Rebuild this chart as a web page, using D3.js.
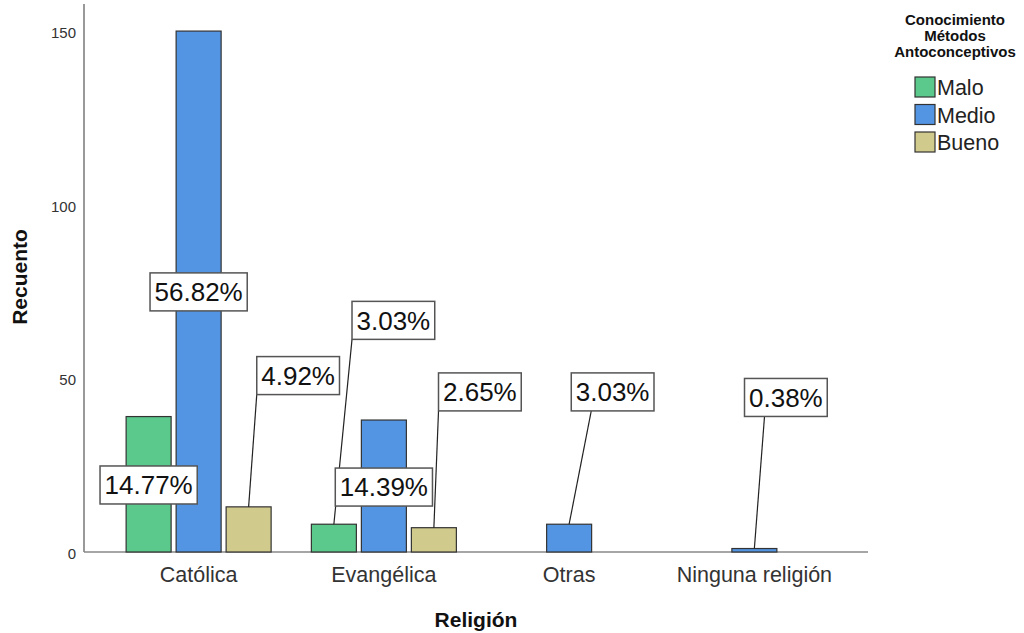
<!DOCTYPE html>
<html>
<head>
<meta charset="utf-8">
<script src="https://cdn.jsdelivr.net/npm/d3@7"></script>
<style>
  html, body { margin: 0; padding: 0; background: #fff; }
  svg { display: block; font-family: "Liberation Sans", Arial, sans-serif; }
</style>
</head>
<body>
<svg id="chart" width="1024" height="633"></svg>
<script>
// ---- Data ----
const categories = ["Católica", "Evangélica", "Otras", "Ninguna religión"];
const seriesNames = ["Malo", "Medio", "Bueno"];
const maloValues  = [39, 8, 0, 0];
const medioValues = [150, 38, 8, 1];
const buenoValues = [13, 7, 0, 0];
const totalCount = 264;
const yTicks = [0, 50, 100, 150];
const legendTitle = ["Conocimiento", "Métodos", "Antoconceptivos"];
const xTitle = "Religión";
const yTitle = "Recuento";

// ---- Styles / layout ----
const colors = ["#5ac98b", "#5394e3", "#d1ca8d"];
// label placement: category index, series index, x offset (px) from bar centre,
// label centre height (in data units), leader start offset from box left (null = no leader)
const labelLayout = [
  { c: 0, s: 0, dx: 0,    yv: 19.3, lx: null },
  { c: 0, s: 1, dx: 0,    yv: 74.9, lx: null },
  { c: 0, s: 2, dx: 49.5, yv: 50.8, lx: 0 },
  { c: 1, s: 0, dx: 59.5, yv: 66.7, lx: 0 },
  { c: 1, s: 1, dx: 0,    yv: 18.7, lx: null },
  { c: 1, s: 2, dx: 46,   yv: 46.1, lx: 0 },
  { c: 2, s: 1, dx: 43.5, yv: 46.1, lx: 20 },
  { c: 3, s: 1, dx: 31.5, yv: 44.5, lx: 20 }
];

const svg = d3.select("#chart");
const seriesValues = [maloValues, medioValues, buenoValues];

const x = d3.scaleBand().domain(categories).range([106, 847]).padding(0);
const y = d3.scaleLinear().domain([0, 157.8]).range([552, 4]);

const barW = 45, barStep = 50;

// build bar records
const bars = [];
categories.forEach((cat, ci) => {
  const present = seriesNames.map((s, si) => si).filter(si => seriesValues[si][ci] > 0);
  const n = present.length;
  present.forEach((si, k) => {
    const cx = x(cat) + x.bandwidth() / 2 + (k - (n - 1) / 2) * barStep;
    bars.push({ ci, si, cx, v: seriesValues[si][ci] });
  });
});

// axes lines
svg.append("line").attr("x1", 84).attr("x2", 84).attr("y1", y.range()[1]).attr("y2", y(0))
  .attr("stroke", "#999").attr("stroke-width", 2);
svg.append("line").attr("x1", 84).attr("x2", 868).attr("y1", y(0)).attr("y2", y(0))
  .attr("stroke", "#888").attr("stroke-width", 1.5);

// y ticks
const yAxis = svg.append("g").attr("transform", "translate(84,0)")
  .call(d3.axisLeft(y).tickValues(yTicks).tickSize(0).tickPadding(8).tickFormat(d3.format("d")));
yAxis.select(".domain").remove();
yAxis.selectAll("text").attr("font-size", 15).attr("fill", "#333")
  .attr("font-family", "Liberation Sans, Arial, sans-serif").attr("dy", "0.42em");

// x category labels
const xAxis = svg.append("g").attr("transform", `translate(0,${y(0)})`)
  .call(d3.axisBottom(x).tickSize(0).tickPadding(10));
xAxis.select(".domain").remove();
xAxis.selectAll("text").attr("font-size", 21.5).attr("fill", "#333")
  .attr("font-family", "Liberation Sans, Arial, sans-serif").attr("dy", "0.95em");

// bars
svg.append("g").selectAll("rect").data(bars).join("rect")
  .attr("x", d => d.cx - barW / 2)
  .attr("y", d => y(d.v))
  .attr("width", barW)
  .attr("height", d => y(0) - y(d.v))
  .attr("fill", d => colors[d.si])
  .attr("stroke", "#333")
  .attr("stroke-width", 1.2);

// labels
const fs = 26;
const lg = svg.append("g");
labelLayout.forEach(L => {
  const b = bars.find(d => d.ci === L.c && d.si === L.s);
  const txt = (b.v / totalCount * 100).toFixed(2) + "%";
  const cx = b.cx + L.dx, cy = y(L.yv);
  const t = lg.append("text").attr("x", cx).attr("y", cy + fs * 0.36)
    .attr("text-anchor", "middle").attr("font-size", fs).attr("fill", "#111").text(txt);
  const w = t.node().getComputedTextLength() + 9;
  const h = 38;
  const bx = cx - w / 2, by = cy - h / 2;
  if (L.lx !== null) {
    lg.insert("line", "text").attr("x1", bx + L.lx).attr("y1", by + h)
      .attr("x2", b.cx).attr("y2", y(b.v))
      .attr("stroke", "#222").attr("stroke-width", 1.2);
  }
  lg.insert("rect", "text").attr("x", bx).attr("y", by).attr("width", w).attr("height", h)
    .attr("fill", "#fff").attr("stroke", "#555").attr("stroke-width", 1.5);
  t.raise();
});

// axis titles
svg.append("text").attr("transform", "translate(27,277) rotate(-90)")
  .attr("text-anchor", "middle").attr("font-size", 21).attr("font-weight", "bold")
  .attr("fill", "#111").text(yTitle);
svg.append("text").attr("x", 476).attr("y", 627)
  .attr("text-anchor", "middle").attr("font-size", 21).attr("font-weight", "bold")
  .attr("fill", "#111").text(xTitle);

// legend
const leg = svg.append("g");
legendTitle.forEach((line, i) => {
  leg.append("text").attr("x", 955).attr("y", 25 + i * 16)
    .attr("text-anchor", "middle").attr("font-size", 15).attr("font-weight", "bold")
    .attr("fill", "#111").text(line);
});
seriesNames.forEach((s, i) => {
  const yy = 77 + i * 27.5;
  leg.append("rect").attr("x", 915).attr("y", yy).attr("width", 20).attr("height", 20)
    .attr("fill", colors[i]).attr("stroke", "#333").attr("stroke-width", 1.2);
  leg.append("text").attr("x", 937).attr("y", yy + 18).attr("font-size", 21.5)
    .attr("fill", "#222").text(s);
});
</script>
</body>
</html>
